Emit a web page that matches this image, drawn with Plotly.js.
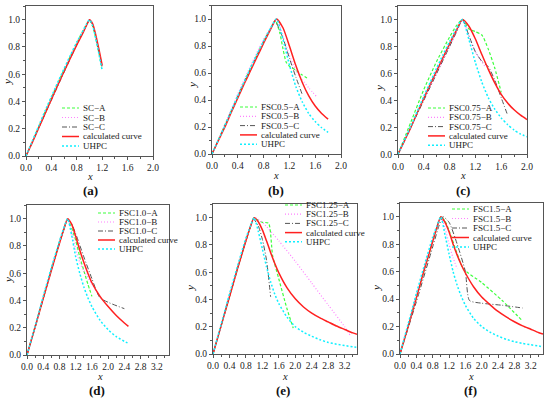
<!DOCTYPE html>
<html><head><meta charset="utf-8">
<script src="https://cdn.plot.ly/plotly-3.0.1.min.js"></script>
<style>html,body{margin:0;padding:0;background:#fff}#plot{width:550px;height:399px}</style>
</head><body><div id="plot"></div>
<script>
// ---------- DATA ----------
// Panel (a)
const a_A_x = [0,0.2,0.4,0.6,0.8,0.95,1.0,1.05,1.1,1.15,1.2];
const a_A_y = [0,0.215,0.43,0.635,0.83,0.965,0.995,0.95,0.86,0.75,0.64];
const a_B_x = [0,0.2,0.4,0.6,0.8,0.95,1.0,1.05,1.1,1.15,1.2];
const a_B_y = [0,0.21,0.42,0.625,0.825,0.96,1.0,0.965,0.875,0.765,0.655];
const a_C_x = [0,0.2,0.4,0.6,0.8,0.95,1.0,1.05,1.1,1.15,1.2];
const a_C_y = [0,0.205,0.41,0.615,0.815,0.955,0.995,0.96,0.87,0.76,0.65];
const a_calc_x = [0,0.1,0.2,0.3,0.4,0.5,0.6,0.7,0.8,0.9,0.95,1.0,1.05,1.1,1.15,1.2];
const a_calc_y = [0,0.1,0.205,0.31,0.415,0.52,0.62,0.72,0.815,0.905,0.955,1.0,0.97,0.885,0.78,0.665];
const a_uhpc_x = [0,0.1,0.2,0.3,0.4,0.5,0.6,0.7,0.8,0.9,0.95,1.0,1.05,1.1,1.15,1.2];
const a_uhpc_y = [0,0.11,0.22,0.33,0.435,0.54,0.64,0.74,0.835,0.92,0.965,1.0,0.955,0.86,0.745,0.625];
// Panel (b)
const b_A_x = [0,0.2,0.4,0.6,0.8,0.9,0.98,1.05,1.1,1.15,1.2,1.3,1.4,1.5];
const b_A_y = [0,0.215,0.43,0.64,0.835,0.925,0.99,0.9,0.78,0.68,0.65,0.62,0.585,0.555];
const b_B_x = [0,0.2,0.4,0.6,0.8,0.9,1.0,1.1,1.2,1.3,1.4,1.5,1.63];
const b_B_y = [0,0.22,0.445,0.655,0.85,0.93,1.0,0.87,0.73,0.62,0.55,0.49,0.42];
const b_C_x = [0,0.2,0.4,0.6,0.8,0.9,0.98,1.02,1.1,1.2,1.3,1.4];
const b_C_y = [0,0.21,0.425,0.63,0.83,0.92,0.985,0.95,0.86,0.71,0.57,0.44];
const b_calc_x = [0,0.1,0.2,0.3,0.4,0.5,0.6,0.7,0.8,0.9,1.0,1.1,1.2,1.3,1.4,1.5,1.6,1.7,1.8];
const b_calc_y = [0,0.1,0.2,0.31,0.415,0.52,0.62,0.72,0.82,0.915,1.0,0.935,0.8,0.655,0.53,0.43,0.355,0.3,0.258];
const b_uhpc_x = [0,0.1,0.2,0.3,0.4,0.5,0.6,0.7,0.8,0.9,1.0,1.1,1.2,1.3,1.4,1.5,1.6,1.7,1.8];
const b_uhpc_y = [0,0.105,0.21,0.32,0.43,0.535,0.64,0.74,0.835,0.925,1.0,0.85,0.66,0.5,0.385,0.3,0.24,0.195,0.16];
// Panel (c)
const c_A_x = [0,0.2,0.4,0.6,0.8,0.9,1.0,1.1,1.2,1.3,1.4,1.5,1.6];
const c_A_y = [0,0.24,0.48,0.69,0.87,0.95,1.0,0.93,0.91,0.885,0.78,0.64,0.46];
const c_B_x = [0,0.2,0.4,0.6,0.8,0.9,1.0,1.1,1.2,1.35];
const c_B_y = [0,0.2,0.41,0.6,0.8,0.9,0.99,0.88,0.76,0.65];
const c_C_x = [0,0.2,0.4,0.6,0.8,0.9,1.0,1.1,1.2,1.3,1.4,1.5,1.6,1.7];
const c_C_y = [0,0.2,0.4,0.6,0.8,0.9,1.0,0.88,0.76,0.69,0.65,0.55,0.42,0.29];
const c_calc_x = [0,0.1,0.2,0.3,0.4,0.5,0.6,0.7,0.8,0.9,1.0,1.1,1.2,1.3,1.4,1.5,1.6,1.7,1.8,1.9,2.0];
const c_calc_y = [0,0.1,0.2,0.31,0.415,0.52,0.62,0.72,0.82,0.915,1.0,0.95,0.855,0.74,0.63,0.53,0.445,0.38,0.33,0.29,0.258];
const c_uhpc_x = [0,0.1,0.2,0.3,0.4,0.5,0.6,0.7,0.8,0.9,1.0,1.1,1.2,1.3,1.4,1.5,1.6,1.7,1.8,1.9,2.0];
const c_uhpc_y = [0,0.105,0.21,0.32,0.43,0.535,0.64,0.74,0.835,0.925,1.0,0.85,0.68,0.535,0.42,0.335,0.27,0.22,0.18,0.15,0.13];
// Panel (d)
const d_A_x = [0,0.2,0.4,0.6,0.8,0.9,1.0,1.1,1.2,1.3,1.4,1.5,1.6];
const d_A_y = [0,0.21,0.42,0.63,0.83,0.92,0.99,0.93,0.84,0.72,0.62,0.52,0.43];
const d_B_x = [0,0.2,0.4,0.6,0.8,0.9,1.0,1.1,1.2,1.3,1.4,1.6,1.8];
const d_B_y = [0,0.21,0.42,0.63,0.83,0.92,0.99,0.9,0.78,0.68,0.62,0.52,0.43];
const d_C_x = [0,0.2,0.4,0.6,0.8,0.9,1.0,1.1,1.2,1.4,1.6,1.8,2.4];
const d_C_y = [0,0.2,0.41,0.62,0.82,0.91,0.99,0.96,0.89,0.72,0.56,0.42,0.34];
const d_calc_x = [0,0.2,0.4,0.6,0.8,0.9,1.0,1.1,1.2,1.3,1.4,1.5,1.6,1.8,2.0,2.2,2.4,2.5];
const d_calc_y = [0,0.205,0.415,0.62,0.82,0.915,1.0,0.96,0.87,0.77,0.68,0.6,0.53,0.43,0.355,0.29,0.235,0.21];
const d_uhpc_x = [0,0.2,0.4,0.6,0.8,0.9,1.0,1.1,1.2,1.3,1.4,1.5,1.6,1.8,2.0,2.2,2.4,2.5];
const d_uhpc_y = [0,0.21,0.43,0.64,0.835,0.925,1.0,0.88,0.72,0.6,0.5,0.42,0.355,0.255,0.185,0.135,0.1,0.085];
// Panel (e)
const e_A_x = [0,0.2,0.4,0.6,0.8,0.9,1.0,1.1,1.2,1.35,1.45,1.6,1.8,1.95];
const e_A_y = [0,0.21,0.42,0.63,0.83,0.925,1.0,0.98,0.965,0.96,0.72,0.55,0.33,0.19];
const e_B_x = [0,0.2,0.4,0.6,0.8,0.9,1.0,1.2,1.6,2.0,2.4,2.8,3.2,3.35];
const e_B_y = [0,0.21,0.42,0.63,0.83,0.925,1.0,0.965,0.83,0.68,0.52,0.36,0.2,0.13];
const e_C_x = [0,0.2,0.4,0.6,0.8,0.9,0.98,1.1,1.2,1.3,1.4];
const e_C_y = [0,0.21,0.42,0.63,0.83,0.92,0.99,0.94,0.84,0.69,0.42];
const e_calc_x = [0,0.2,0.4,0.6,0.8,0.9,1.0,1.1,1.2,1.3,1.4,1.5,1.6,1.8,2.0,2.2,2.4,2.6,2.8,3.0,3.2,3.4,3.5];
const e_calc_y = [0,0.21,0.42,0.63,0.83,0.925,1.0,0.97,0.91,0.83,0.745,0.665,0.595,0.485,0.405,0.345,0.3,0.265,0.235,0.205,0.18,0.155,0.145];
const e_uhpc_x = [0,0.2,0.4,0.6,0.8,0.9,1.0,1.1,1.2,1.3,1.4,1.5,1.6,1.8,2.0,2.2,2.4,2.6,2.8,3.0,3.2,3.4,3.5];
const e_uhpc_y = [0,0.22,0.44,0.65,0.85,0.93,1.0,0.9,0.77,0.64,0.53,0.44,0.37,0.27,0.2,0.16,0.13,0.105,0.085,0.072,0.062,0.052,0.048];
// Panel (f)
const f_A_x = [0,0.2,0.4,0.6,0.8,0.9,1.0,1.1,1.2,1.4,1.55,2.0,2.5,3.0];
const f_A_y = [0,0.2,0.41,0.62,0.82,0.92,1.0,0.97,0.9,0.73,0.62,0.52,0.39,0.24];
const f_B_x = [0,0.2,0.4,0.6,0.8,0.9,1.0,1.1,1.2,1.3,1.4];
const f_B_y = [0,0.21,0.42,0.63,0.83,0.92,1.0,0.92,0.8,0.7,0.62];
const f_C_x = [0,0.4,0.8,0.95,1.05,1.2,1.4,1.6,1.7,2.0,2.5,3.0];
const f_C_y = [0,0.38,0.78,0.93,1.0,0.96,0.8,0.6,0.39,0.37,0.355,0.335];
const f_calc_x = [0,0.2,0.4,0.6,0.8,0.9,1.0,1.1,1.2,1.3,1.4,1.5,1.6,1.8,2.0,2.2,2.4,2.6,2.8,3.0,3.2,3.4,3.5];
const f_calc_y = [0,0.2,0.41,0.62,0.82,0.92,1.0,0.96,0.89,0.8,0.72,0.65,0.59,0.49,0.415,0.36,0.31,0.27,0.235,0.205,0.18,0.155,0.145];
const f_uhpc_x = [0,0.2,0.4,0.6,0.8,0.9,1.0,1.1,1.2,1.3,1.4,1.5,1.6,1.8,2.0,2.2,2.4,2.6,2.8,3.0,3.2,3.4,3.5];
const f_uhpc_y = [0,0.22,0.44,0.65,0.85,0.93,1.0,0.87,0.73,0.6,0.5,0.42,0.355,0.26,0.2,0.16,0.13,0.107,0.09,0.077,0.067,0.058,0.053];

// Legend labels
const legend_a = ["SC\u2212A","SC\u2212B","SC\u2212C","calculated curve","UHPC"];
const legend_b = ["FSC0.5\u2212A","FSC0.5\u2212B","FSC0.5\u2212C","calculated curve","UHPC"];
const legend_c = ["FSC0.75\u2212A","FSC0.75\u2212B","FSC0.75\u2212C","calculated curve","UHPC"];
const legend_d = ["FSC1.0\u2212A","FSC1.0\u2212B","FSC1.0\u2212C","calculated curve","UHPC"];
const legend_e = ["FSC1.25\u2212A","FSC1.25\u2212B","FSC1.25\u2212C","calculated curve","UHPC"];
const legend_f = ["FSC1.5\u2212A","FSC1.5\u2212B","FSC1.5\u2212C","calculated curve","UHPC"];
const panelLabels = ["(a)","(b)","(c)","(d)","(e)","(f)"];

// ---------- STYLE ----------
const W = 550, H = 399;
const FONT = "Liberation Serif, Times New Roman, serif";
const styles = [
  {color:"#3dff3d", dash:"3px,2px", width:1.2},
  {color:"#ff80ff", dash:"1px,2px", width:1.2},
  {color:"#555555", dash:"5px,2px,1px,2px", width:1},
  {color:"#ff2020", dash:"solid", width:1.5},
  {color:"#10f0ff", dash:"2px,2px", width:1.5}
];
// pixel boxes: [left, right, top, bottom]
const boxes = [
  [26,153,6,156],[212,341,5.5,154],[398,527,6,154.3],
  [27,169,205,355],[213,357,204,354],[400,543,203,354]
];
const xr = [[0,2],[0,2],[0,2],[0,3.5],[0,3.5],[0,3.5]];
// legend placement (pixel): sample line start x, first row y, row step
const legPos = [[62,108,9.5],[240,107,9.3],[428,108,9.3],[98,213,9],[285,205,9.2],[452,209,9.5]];
const labelPos = [[90,190],[276,190],[463,190],[97,390],[283,390],[470,390]];
const xTitlePos = [[90,176],[276,175],[463,175],[100,376],[285,376],[471,376]];
const yTitlePos = [[7,82],[192,85],[379,88],[8,280],[190,288],[376,288]];

const panels = [
  [[a_A_x,a_A_y],[a_B_x,a_B_y],[a_C_x,a_C_y],[a_calc_x,a_calc_y],[a_uhpc_x,a_uhpc_y]],
  [[b_A_x,b_A_y],[b_B_x,b_B_y],[b_C_x,b_C_y],[b_calc_x,b_calc_y],[b_uhpc_x,b_uhpc_y]],
  [[c_A_x,c_A_y],[c_B_x,c_B_y],[c_C_x,c_C_y],[c_calc_x,c_calc_y],[c_uhpc_x,c_uhpc_y]],
  [[d_A_x,d_A_y],[d_B_x,d_B_y],[d_C_x,d_C_y],[d_calc_x,d_calc_y],[d_uhpc_x,d_uhpc_y]],
  [[e_A_x,e_A_y],[e_B_x,e_B_y],[e_C_x,e_C_y],[e_calc_x,e_calc_y],[e_uhpc_x,e_uhpc_y]],
  [[f_A_x,f_A_y],[f_B_x,f_B_y],[f_C_x,f_C_y],[f_calc_x,f_calc_y],[f_uhpc_x,f_uhpc_y]]
];
const legends = [legend_a,legend_b,legend_c,legend_d,legend_e,legend_f];

const traces = [];
const layout = {
  width:W, height:H, margin:{l:0,r:0,t:0,b:0},
  paper_bgcolor:"#fff", plot_bgcolor:"#fff", showlegend:false,
  font:{family:FONT, color:"#222"},
  shapes:[], annotations:[]
};
const px = v => v/W, py = v => 1 - v/H;

panels.forEach((series, i) => {
  const n = i===0 ? "" : String(i+1);
  const xa = "x"+n, ya = "y"+n;
  series.forEach((s, k) => {
    const st = styles[k];
    traces.push({x:s[0], y:s[1], xaxis:xa, yaxis:ya, mode:"lines", type:"scatter",
      line:{color:st.color, dash:st.dash, width:st.width, shape:"spline", smoothing:0.6},
      hoverinfo:"skip"});
  });
  const b = boxes[i];
  const common = {
    showline:true, linecolor:"#555", linewidth:1, mirror:true, showgrid:false, zeroline:false,
    ticks:"outside", ticklen:3, tickwidth:1, tickcolor:"#555",
    tickfont:{family:FONT, size:9.5, color:"#222"}, tickformat:".1f", tick0:0
  };
  layout["xaxis"+n] = Object.assign({}, common, {
    domain:[px(b[0]), px(b[1])], range:xr[i], dtick:0.4, anchor:ya,
    minor:{ticks:"outside", ticklen:2, dtick:0.2, tickcolor:"#555", showgrid:false}
  });
  layout["yaxis"+n] = Object.assign({}, common, {
    domain:[py(b[3]), py(b[2])], range:[0,1.1], dtick:0.2, anchor:xa,
    minor:{ticks:"outside", ticklen:2, dtick:0.1, tickcolor:"#555", showgrid:false}
  });
  // axis titles
  layout.annotations.push({xref:"paper", yref:"paper", x:px(xTitlePos[i][0]), y:py(xTitlePos[i][1]),
    xanchor:"center", yanchor:"middle", showarrow:false, text:"<i>x</i>",
    font:{family:FONT, size:10.5, color:"#222"}});
  layout.annotations.push({xref:"paper", yref:"paper", x:px(yTitlePos[i][0]), y:py(yTitlePos[i][1]),
    xanchor:"center", yanchor:"middle", showarrow:false, text:"<i>y</i>", textangle:-90,
    font:{family:FONT, size:11, color:"#222"}});
  // legend (manual: shapes + text)
  const lp = legPos[i];
  legends[i].forEach((txt, k) => {
    const st = styles[k];
    const yy = lp[1] + k*lp[2];
    layout.shapes.push({type:"line", xref:"paper", yref:"paper",
      x0:px(lp[0]), x1:px(lp[0]+17), y0:py(yy), y1:py(yy),
      line:{color:st.color, dash:st.dash, width:st.width}});
    layout.annotations.push({xref:"paper", yref:"paper", x:px(lp[0]+19), y:py(yy),
      xanchor:"left", yanchor:"middle", showarrow:false, text:txt,
      font:{family:FONT, size:9, color:"#222"}});
  });
  layout.annotations.push({xref:"paper", yref:"paper", x:px(labelPos[i][0]), y:py(labelPos[i][1]),
    xanchor:"center", yanchor:"middle", showarrow:false, text:"<b>"+panelLabels[i]+"</b>",
    font:{family:FONT, size:13, color:"#111"}});
});

Plotly.newPlot("plot", traces, layout, {staticPlot:true});
</script></body></html>
